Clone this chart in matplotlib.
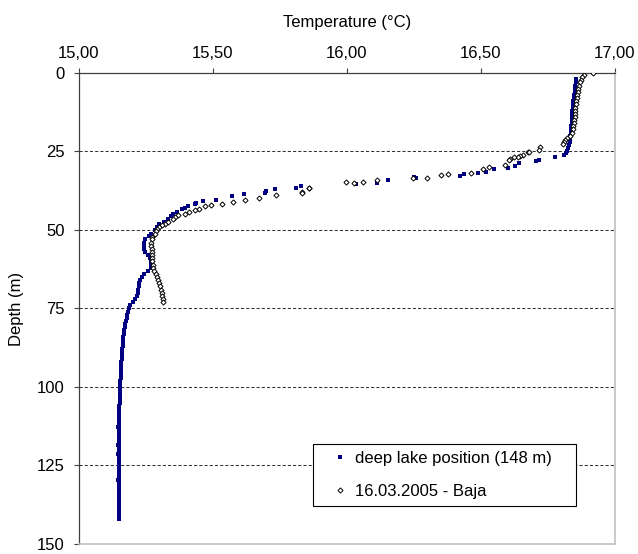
import matplotlib
matplotlib.use("Agg")
import matplotlib.pyplot as plt
from matplotlib.ticker import FuncFormatter

plt.rcParams["font.family"] = ["Liberation Sans", "DejaVu Sans"]

# deep lake position (148 m): depth (m), temperature (degC)
deep_depth = [2, 3, 4, 5, 6, 7, 8, 9, 10, 11, 12, 13, 14, 15, 16, 17, 18, 19, 20,
              21, 22, 23, 24, 25, 25.6,
              26.2, 26.7, 27.8, 28.1, 28.8, 29.7, 30.2, 30.7, 31.4, 31.7, 32.3,
              32.8, 33.1, 33.6, 34.2, 34.9, 35.3, 36.0, 36.5, 37.0, 37.5, 38.3,
              38.5, 39.3, 40.3, 40.7, 41.4, 41.8, 42.3, 43.0, 43.4, 44.3, 44.8,
              45.5, 46.4, 47.4, 48.2, 49.0, 50.1, 51.2,
              52, 53, 54, 55, 56, 57, 58, 59,
              60, 61, 62, 63, 64, 65, 66, 67,
              68, 69, 70, 71, 72, 73, 74, 75,
              76, 77, 78, 79, 80, 81, 82, 83,
              84, 85, 86, 87, 88, 89, 90, 91,
              92, 93, 94, 95, 96, 97, 98, 99,
              100, 101, 102, 103, 104, 105, 106, 107, 108, 109,
              110, 111, 112, 113, 114, 115, 116, 117, 118, 119,
              120, 121, 122, 123, 124, 125, 126, 127, 128, 129,
              130, 131, 132, 133, 134, 135, 136, 137, 138, 139,
              140, 141, 142,
              112.9, 118.5, 121.5, 129.5]
deep_temp = [16.856, 16.854, 16.852, 16.851, 16.849, 16.848, 16.846, 16.845,
             16.843, 16.842, 16.841, 16.840, 16.839, 16.838, 16.838, 16.837,
             16.836, 16.835, 16.834, 16.832, 16.831, 16.829, 16.826, 16.822,
             16.818,
             16.808, 16.776, 16.717, 16.707, 16.642, 16.627, 16.599, 16.549,
             16.518, 16.490, 16.435, 16.421, 16.249, 16.258, 16.152, 16.111,
             16.034, 15.827, 15.808, 15.732, 15.699, 15.694, 15.617, 15.571,
             15.511, 15.463, 15.438, 15.434, 15.407, 15.395, 15.385, 15.364,
             15.352, 15.343, 15.333, 15.318, 15.299, 15.292, 15.283, 15.270,
             15.262, 15.248, 15.244, 15.243, 15.243, 15.248, 15.258, 15.266,
             15.270, 15.269, 15.267, 15.256, 15.242, 15.234, 15.228, 15.225,
             15.223, 15.222, 15.219, 15.216, 15.210, 15.203, 15.190, 15.185,
             15.182, 15.180, 15.180, 15.176, 15.173, 15.171, 15.168, 15.167,
             15.166, 15.165, 15.164, 15.163, 15.162, 15.161, 15.160, 15.159,
             15.158, 15.157, 15.157, 15.156, 15.155, 15.155, 15.154, 15.154,
             15.153, 15.153, 15.153, 15.152, 15.152, 15.152, 15.151, 15.151, 15.151, 15.151,
             15.150, 15.150, 15.150, 15.150, 15.150, 15.150, 15.150, 15.150, 15.149, 15.149,
             15.149, 15.149, 15.149, 15.149, 15.149, 15.149, 15.149, 15.149, 15.149, 15.149,
             15.149, 15.149, 15.149, 15.149, 15.149, 15.149, 15.149, 15.149, 15.149, 15.149,
             15.149, 15.149, 15.149,
             15.145, 15.146, 15.146, 15.146]

# 16.03.2005 - Baja
baja_depth = [0.1, 0.6, 1.2, 2.2, 3, 4, 5, 6, 7, 8, 9, 10, 11, 12, 13, 14, 15,
              16, 17, 18, 19, 20, 20.8, 21.4, 22, 22.7, 23.7, 24.4, 25.1, 25.3,
              26.2, 26.5, 26.7, 26.9, 27.4, 27.8, 29.4, 30.1, 30.6, 31.7, 32.2,
              32.6, 33.4, 33.6, 34.2, 34.7, 35.2, 34.7, 36.5, 36.6, 37.9, 38.2,
              38.9, 39.7, 40.3, 41.0, 41.8, 42.1, 42.3, 43.2, 43.7, 44.3, 44.8,
              45.3, 46.0, 46.4, 47.4, 48.0, 48.5, 49.0, 49.6, 50.4, 51.2, 52.2,
              53, 54, 55, 56, 57, 58, 59, 60, 61, 62, 63, 64, 65, 66, 67, 68,
              69, 70, 71, 72, 73]
baja_temp = [16.918, 16.885, 16.878, 16.872, 16.869, 16.866, 16.863, 16.862,
             16.860, 16.858, 16.856, 16.854, 16.852, 16.851, 16.850, 16.849,
             16.848, 16.847, 16.845, 16.843, 16.839, 16.831, 16.822, 16.814,
             16.810, 16.806, 16.721, 16.717, 16.676, 16.678, 16.655, 16.645,
             16.638, 16.624, 16.608, 16.603, 16.590, 16.531, 16.506, 16.462,
             16.376, 16.352, 16.297, 16.245, 16.112, 16.058, 16.028, 15.997,
             15.860, 15.858, 15.833, 15.833, 15.736, 15.672, 15.618, 15.575,
             15.534, 15.494, 15.469, 15.447, 15.432, 15.410, 15.395, 15.370,
             15.360, 15.351, 15.333, 15.320, 15.308, 15.300, 15.292, 15.287,
             15.283, 15.274, 15.272, 15.270, 15.270, 15.271, 15.272, 15.272,
             15.273, 15.274, 15.275, 15.277, 15.279, 15.286, 15.291, 15.296,
             15.300, 15.303, 15.306, 15.308, 15.310, 15.312, 15.314]

x_ticks = [15.0, 15.5, 16.0, 16.5, 17.0]
y_ticks = [0, 25, 50, 75, 100, 125, 150]

fig = plt.figure(figsize=(6.38, 5.54), dpi=100)
ax = fig.add_axes([0.1238, 0.0181, 0.8401, 0.8502])

ax.plot(deep_temp, deep_depth, ls="none", marker="s", ms=2.5, mew=0,
        color="#000080", label="deep lake position (148 m)", zorder=3)
ax.plot(baja_temp, baja_depth, ls="none", marker="D", ms=2.6, mew=0.7,
        mfc="white", mec="black", label="16.03.2005 - Baja", zorder=4)

ax.set_xlim(15, 17)
ax.set_ylim(150, 0)
ax.set_xticks(x_ticks)
ax.set_yticks(y_ticks)
ax.xaxis.set_major_formatter(FuncFormatter(lambda v, p: f"{v:.2f}".replace(".", ",")))
ax.xaxis.tick_top()
ax.xaxis.set_label_position("top")
ax.tick_params(axis="both", direction="out", length=3.5, width=0.8,
               labelsize=12, pad=5, color="#404040")
ax.tick_params(axis="y", pad=7)
ax.set_xlabel("Temperature (°C)", fontsize=12, labelpad=14)
ax.set_ylabel("Depth (m)", fontsize=12, labelpad=9)

ax.yaxis.grid(True, color="#333333", linewidth=0.75, linestyle=(0, (3, 2)))
gl = ax.get_ygridlines()
gl[0].set_visible(False)
gl[-1].set_visible(False)

for side in ["left", "top"]:
    ax.spines[side].set_color("#404040")
    ax.spines[side].set_linewidth(0.9)
for side in ["right", "bottom"]:
    ax.spines[side].set_color("#c0c0c0")
    ax.spines[side].set_linewidth(1.2)

leg = ax.legend(loc="lower left", bbox_to_anchor=(0.4366, 0.0807, 0.4907, 0.1359),
                mode="expand", fontsize=12, frameon=True, fancybox=False,
                edgecolor="black", framealpha=1, handlelength=2.4,
                handletextpad=-0.25, labelspacing=1.1, borderpad=0.4,
                borderaxespad=0, markerscale=1.0)
leg.get_frame().set_linewidth(0.8)

fig.savefig("out.png", dpi=100)
